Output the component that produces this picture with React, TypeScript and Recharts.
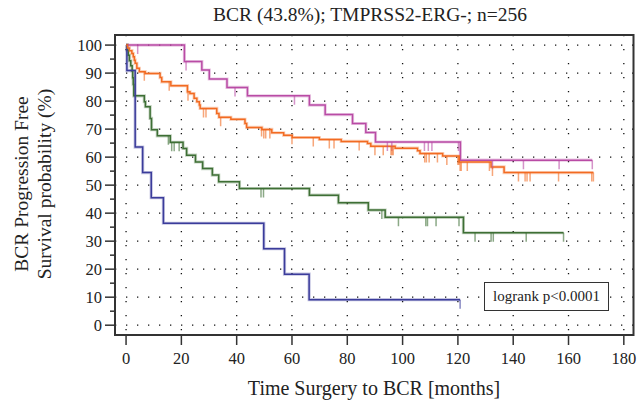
import React from "react"
import {
  ComposedChart,
  Line,
  Scatter,
  XAxis,
  YAxis,
  CartesianGrid,
  ReferenceArea,
} from "recharts"

// Kaplan-Meier curves: event times (months) and survival (%)
const magentaTimes = [0, 21.1, 27.4, 30.1, 36.5, 43.9, 66.3, 72.0, 81.9, 86.7, 90.2, 120.9, 168.6]
const magentaSurv = [100, 94.1, 91.1, 87.9, 84.9, 81.9, 78.6, 75.2, 72.0, 68.8, 65.4, 58.9, 58.9]
const magentaCensored = [4.2, 21.7, 39.4, 60.9, 94.5, 96.1, 107.9, 109.3, 110.6, 120.2, 132.5, 143.7, 156.6, 168.6]

const orangeTimes = [
  0, 0.5, 1.2, 2.1, 2.6, 3.0, 3.3, 3.9, 4.8, 6.9, 12.3, 12.9, 16.2, 22.2, 23.1, 24.6, 25.6, 26.5, 26.8,
  32.8, 33.6, 37.9, 43.0, 43.6, 49.1, 52.7, 57.0, 60.1, 69.9, 77.8, 87.3, 88.5, 97.3, 105.4, 106.3,
  114.5, 120.5, 132.0, 136.7, 169.0,
]
const orangeSurv = [
  100, 99.0, 98.0, 97.0, 95.8, 94.6, 93.5, 91.7, 90.5, 89.9, 88.4, 86.9, 85.5, 83.3, 82.7, 81.0, 79.8, 78.6, 77.4,
  75.6, 74.2, 73.5, 72.0, 70.6, 69.9, 68.7, 67.8, 67.0, 66.3, 65.6, 64.9, 63.9, 63.2, 62.3, 61.3,
  60.4, 58.3, 56.5, 54.5, 54.5,
]
const orangeCensored = [
  6.6, 15.6, 22.4, 28.0, 28.9, 34.2, 49.0, 49.8, 50.5, 52.0, 60.0, 67.7, 73.5, 75.2, 84.3, 90.0, 93.0,
  95.8, 96.2, 96.6, 108.0, 108.6, 109.6, 112.6, 116.0, 120.0, 120.4, 120.8, 121.2, 123.4, 131.4, 132.5,
  141.9, 144.3, 145.0, 146.1, 156.4, 168.4, 169.0,
]

const greenTimes = [
  0, 0.4, 0.8, 1.2, 1.7, 2.2, 2.4, 2.6, 2.8, 6.6, 7.0, 8.7, 9.2, 11.3, 16.0, 20.6, 21.9, 25.1, 27.7,
  31.2, 33.5, 41.0, 66.3, 76.8, 87.6, 93.7, 122.0, 158.2,
]
const greenSurv = [
  100, 98.2, 96.4, 94.4, 92.6, 90.7, 88.3, 85.9, 81.9, 79.8, 78.0, 73.8, 69.8, 67.6, 65.3, 63.1, 60.7, 58.3, 55.9,
  53.6, 51.2, 48.8, 46.4, 43.7, 41.1, 38.5, 33.0, 33.0,
]
const greenCensored = [15.3, 16.5, 17.4, 19.2, 48.8, 49.7, 92.5, 98.5, 108.4, 109.0, 112.1, 120.4, 126.2, 132.0, 132.8, 144.7, 158.2]

const blueTimes = [0, 0.3, 3.3, 6.0, 9.1, 13.5, 49.8, 57.3, 66.2, 120.8]
const blueSurv = [100, 90.9, 63.6, 54.5, 45.5, 36.4, 27.3, 18.2, 9.1, 9.1]
const blueCensored = [120.8]

const xTicks = [0, 20, 40, 60, 80, 100, 120, 140, 160, 180]
const yTicks = [0, 5, 10, 15, 20, 25, 30, 35, 40, 45, 50, 55, 60, 65, 70, 75, 80, 85, 90, 95, 100]
const yGrid = [0, 10, 20, 30, 40, 50, 60, 70, 80, 90, 100]

const X_DOMAIN: [number, number] = [-4, 183.5]
const Y_DOMAIN: [number, number] = [-3.5, 103.6]
const FONT = '"Liberation Serif", "DejaVu Serif", serif'
const AXIS = "#333"

const stepValue = (times: number[], surv: number[], t: number) => {
  let v = surv[0]
  for (let i = 0; i < times.length; i++) if (times[i] <= t) v = surv[i]
  return v
}

const makeSeries = (key: string, color: string, times: number[], surv: number[], cens: number[]) => ({
  key,
  color,
  curve: times.map((t, i) => ({ t, s: surv[i] })),
  marks: cens.map((t) => ({ t, s: stepValue(times, surv, t) })),
})

const series = [
  makeSeries("magenta", "#b94ba5", magentaTimes, magentaSurv, magentaCensored),
  makeSeries("green", "#3e6f35", greenTimes, greenSurv, greenCensored),
  makeSeries("blue", "#3b3c9b", blueTimes, blueSurv, blueCensored),
  makeSeries("orange", "#f26b22", orangeTimes, orangeSurv, orangeCensored),
]

const YTick = (props: any) => {
  const { x, y, payload } = props
  const major = payload.value % 10 === 0
  return (
    <g>
      <line x1={x} x2={x - (major ? 10 : 5)} y1={y} y2={y} stroke={AXIS} strokeWidth={1.5} />
      {major && (
        <text x={x - 13} y={y} textAnchor="end" dominantBaseline="central" fontFamily={FONT} fontSize={16.5} fill="#222">
          {payload.value}
        </text>
      )}
    </g>
  )
}

const XTick = (props: any) => {
  const { x, y, payload } = props
  return (
    <g>
      <line x1={x} x2={x} y1={y} y2={y + 10} stroke={AXIS} strokeWidth={1.5} />
      <text x={x} y={y + 23} textAnchor="middle" dominantBaseline="central" fontFamily={FONT} fontSize={16.5} fill="#222">
        {payload.value}
      </text>
    </g>
  )
}

const censorShape = (color: string) => (props: any) => {
  const { cx, cy } = props
  return <line x1={cx} x2={cx} y1={cy} y2={cy + 9} stroke={color} strokeWidth={1.5} strokeOpacity={0.6} />
}

export default function App() {
  return (
    <div style={{ position: "absolute", left: 0, top: 0, width: 643, height: 410, background: "#fff", fontFamily: FONT }}>
      <div style={{ position: "absolute", left: 370, top: 15, transform: "translate(-50%, -50%)", fontSize: 19.5, whiteSpace: "nowrap", color: "#222" }}>
        BCR (43.8%); TMPRSS2-ERG-; n=256
      </div>
      <div
        style={{
          position: "absolute",
          left: 33,
          top: 184,
          transform: "translate(-50%, -50%) rotate(-90deg)",
          fontSize: 19.5,
          lineHeight: "23px",
          textAlign: "center",
          whiteSpace: "nowrap",
          color: "#222",
        }}
      >
        BCR Progression Free
        <br />
        Survival probability (%)
      </div>

      <ComposedChart width={643} height={410} margin={{ top: 35, right: 9.5, bottom: 0, left: 0 }}>
        <CartesianGrid horizontal={true} vertical={false} horizontalValues={yGrid} stroke="#111" strokeWidth={1.3} strokeDasharray="1.3 9.7" />
        <CartesianGrid horizontal={false} vertical={true} verticalValues={xTicks} stroke="#111" strokeWidth={1.3} strokeDasharray="1.3 12.7" />
        <XAxis
          type="number"
          dataKey="t"
          domain={X_DOMAIN}
          ticks={xTicks}
          allowDataOverflow
          height={75}
          tickSize={0}
          tickMargin={0}
          tickLine={false}
          axisLine={false}
          tick={<XTick />}
          interval={0}
        />
        <YAxis
          type="number"
          dataKey="s"
          domain={Y_DOMAIN}
          ticks={yTicks}
          allowDataOverflow
          width={115}
          tickSize={0}
          tickMargin={0}
          tickLine={false}
          axisLine={false}
          tick={<YTick />}
          interval={0}
        />
        <ReferenceArea x1={X_DOMAIN[0]} x2={X_DOMAIN[1]} y1={Y_DOMAIN[0]} y2={Y_DOMAIN[1]} fill="none" stroke={AXIS} strokeWidth={2} />

        {series.map((s) => (
          <Line
            key={s.key + "-halo"}
            data={s.curve}
            dataKey="s"
            type="stepAfter"
            stroke={s.color}
            strokeWidth={3.2}
            strokeOpacity={0.3}
            dot={false}
            activeDot={false}
            isAnimationActive={false}
          />
        ))}
        {series.map((s) => (
          <Line
            key={s.key}
            data={s.curve}
            dataKey="s"
            type="stepAfter"
            stroke={s.color}
            strokeWidth={1.5}
            dot={false}
            activeDot={false}
            isAnimationActive={false}
          />
        ))}
        {series.map((s) => (
          <Scatter key={s.key + "-cens"} data={s.marks} dataKey="s" shape={censorShape(s.color)} isAnimationActive={false} />
        ))}
      </ComposedChart>

      <div
        style={{
          position: "absolute",
          left: 484,
          top: 282,
          width: 125,
          height: 29,
          boxSizing: "border-box",
          border: "1.5px solid #333",
          background: "#fff",
          fontSize: 15,
          display: "flex",
          alignItems: "center",
          justifyContent: "center",
          color: "#222",
        }}
      >
        logrank p&lt;0.0001
      </div>
      <div style={{ position: "absolute", left: 374, top: 388, transform: "translate(-50%, -50%)", fontSize: 20, whiteSpace: "nowrap", color: "#222" }}>
        Time Surgery to BCR [months]
      </div>
    </div>
  )
}
